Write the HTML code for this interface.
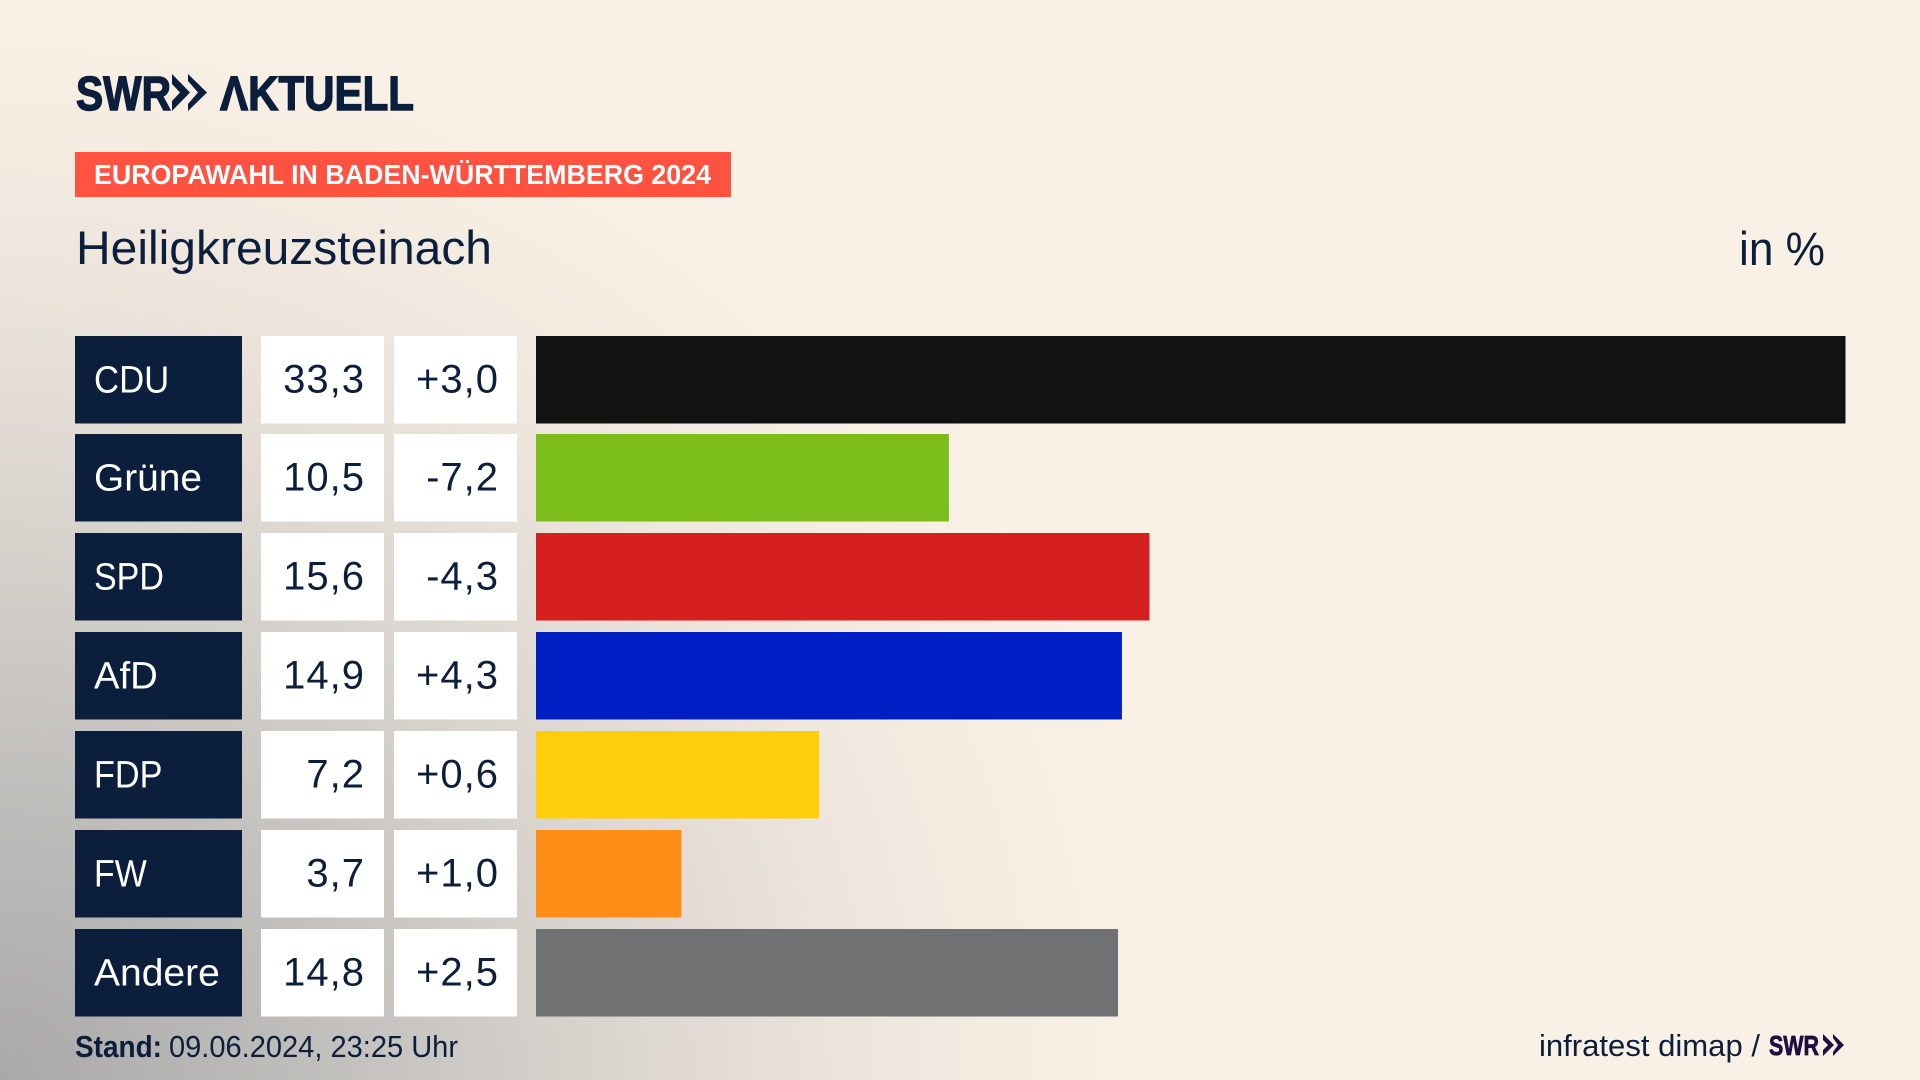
<!DOCTYPE html>
<html lang="de">
<head>
<meta charset="utf-8">
<title>Europawahl in Baden-Württemberg 2024 – Heiligkreuzsteinach</title>
<style>
html,body{margin:0;padding:0;width:1920px;height:1080px;overflow:hidden;background:#faf1e6;}
#stage{position:absolute;left:0;top:0;width:1920px;height:1080px;
background:radial-gradient(ellipse 1200px 1130px at 0 1080px,#a9a9a8 0%,#c2c0bd 28%,#d9d4ce 50%,#eee6dd 72%,#f8efe4 90%,#faf1e6 100%);}
svg{position:absolute;left:0;top:0;}
text{font-family:"Liberation Sans",sans-serif;fill:#0b1f3c;}
</style>
</head>
<body>
<div id="stage">
<svg id="chart" width="1920" height="1080" viewBox="0 0 1920 1080">
  <g aria-label="SWR Aktuell">
    <text x="76" y="110" font-size="48" font-weight="700" textLength="95" lengthAdjust="spacingAndGlyphs" stroke="#0b1f3c" stroke-width="1.4">SWR</text>
    <polygon points="172,74 190,92.5 172,111 172,101 180,92.5 172,84" fill="#0b1f3c"/>
    <polygon points="188,74 207,92.5 188,111 188,104 198,92.5 188,81" fill="#0b1f3c"/>
    <text x="220" y="110" font-size="48" font-weight="700" textLength="194" lengthAdjust="spacingAndGlyphs" stroke="#0b1f3c" stroke-width="1.4">ΛKTUELL</text>
  </g>
  <rect x="75" y="152" width="656" height="45" fill="#ff5240"/>
  <text x="94" y="184" font-size="28" font-weight="700" textLength="617" lengthAdjust="spacingAndGlyphs" style="fill:#fff">EUROPAWAHL IN BADEN-WÜRTTEMBERG 2024</text>
  <text x="76" y="264" font-size="47" textLength="416" lengthAdjust="spacingAndGlyphs">Heiligkreuzsteinach</text>
  <text x="1739" y="265" font-size="47" textLength="86" lengthAdjust="spacingAndGlyphs">in %</text>
  <g id="rows"></g>
  <text x="75" y="1057" font-size="31" font-weight="700" textLength="87" lengthAdjust="spacingAndGlyphs">Stand:</text>
  <text x="169" y="1057" font-size="31" textLength="289" lengthAdjust="spacingAndGlyphs">09.06.2024, 23:25 Uhr</text>
  <text x="1539" y="1056" font-size="31" textLength="221" lengthAdjust="spacingAndGlyphs">infratest dimap /</text>
  <text x="1769" y="1055" font-size="28" font-weight="700" textLength="50" lengthAdjust="spacingAndGlyphs" stroke="#1e0f40" stroke-width="0.8" style="fill:#1e0f40">SWR</text>
  <polygon points="1823,1034 1834,1045 1823,1056 1823,1050 1828,1045 1823,1040" fill="#1e0f40"/>
  <polygon points="1833,1034 1844,1045 1833,1056 1833,1052 1838,1045 1833,1038" fill="#1e0f40"/>
</svg>
</div>
<script>
const parties = ["CDU", "Grüne", "SPD", "AfD", "FDP", "FW", "Andere"];
const shares = [33.3, 10.5, 15.6, 14.9, 7.2, 3.7, 14.8];
const changes = [3.0, -7.2, -4.3, 4.3, 0.6, 1.0, 2.5];
const partyColors = ["#121212", "#7bbd1a", "#d6201f", "#0020c6", "#ffce0a", "#ff8e17", "#707173"];

const NS = "http://www.w3.org/2000/svg";
const BAR_LEFT = 536;
const BAR_FULL = 1309.5;
const ROW_TOP = 336;
const ROW_PITCH = 98.84;
const ROW_HEIGHT = 87.5;
const LABEL_SIZE = 38;
/* approximate advance widths (em) of the original typeface, used to fit party labels */
const glyphEm = {C:.62,D:.68,U:.68,G:.72,S:.58,P:.58,A:.66,F:.54,W:.85,f:.34};
const rowsGroup = document.getElementById("rows");

function xScale(v) { return BAR_FULL * v / Math.max.apply(null, shares); }
function yScale(i) { return Math.floor(ROW_TOP + ROW_PITCH * i); }
function fmtShare(v) { return v.toFixed(1).replace(".", ","); }
function fmtChange(v) { return (v > 0 ? "+" : "") + v.toFixed(1).replace(".", ","); }
function labelWidth(s) {
  let em = 0;
  for (const ch of s) { em += glyphEm[ch] || .53; }
  return em * LABEL_SIZE;
}
function makeRect(x, y, w, h, fill) {
  const r = document.createElementNS(NS, "rect");
  r.setAttribute("x", x);
  r.setAttribute("y", y);
  r.setAttribute("width", w);
  r.setAttribute("height", h);
  r.setAttribute("fill", fill);
  return r;
}
function makeText(x, y, str, anchor, spacing, color, size) {
  const t = document.createElementNS(NS, "text");
  t.setAttribute("x", x);
  t.setAttribute("y", y);
  t.setAttribute("font-size", size);
  t.setAttribute("text-anchor", anchor);
  t.setAttribute("letter-spacing", spacing);
  t.style.fill = color;
  t.textContent = str;
  return t;
}

parties.forEach(function (party, i) {
  const y = yScale(i);
  const base = y + 56.5;

  const labelBg = makeRect(75, y, 167, ROW_HEIGHT, "#0b1f3c");
  
  
  rowsGroup.appendChild(labelBg);

  const label = makeText(94, base, party, "start", "0", "#ffffff", LABEL_SIZE);
  label.setAttribute("textLength", labelWidth(party));
  label.setAttribute("lengthAdjust", "spacingAndGlyphs");
  
  
  rowsGroup.appendChild(label);

  const shareBg = makeRect(261, y, 123, ROW_HEIGHT, "#ffffff");
  
  
  rowsGroup.appendChild(shareBg);

  const share = makeText(365, base, fmtShare(shares[i]), "end", "1", "#0b1f3c", 40);
  
  
  rowsGroup.appendChild(share);

  const changeBg = makeRect(394, y, 123, ROW_HEIGHT, "#ffffff");
  
  
  rowsGroup.appendChild(changeBg);

  const change = makeText(499, base, fmtChange(changes[i]), "end", "1", "#0b1f3c", 40);
  
  
  rowsGroup.appendChild(change);

  const bar = makeRect(BAR_LEFT, y, xScale(shares[i]), ROW_HEIGHT, partyColors[i]);
  
  
  rowsGroup.appendChild(bar);
});
</script>
</body>
</html>
